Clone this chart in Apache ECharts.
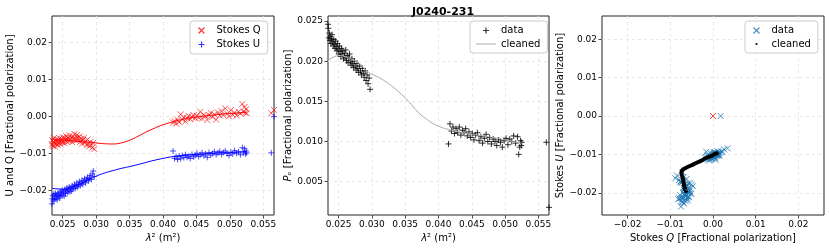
<!DOCTYPE html>
<html>
<head>
<meta charset="utf-8">
<script src="https://cdn.jsdelivr.net/npm/echarts@6/dist/echarts.min.js"></script>
<style>
html,body{margin:0;padding:0;background:#fff;}
#chart{width:830px;height:249px;}
</style>
</head>
<body>
<div id="chart"></div>
<script>
// ---------------- data ----------------
const lambdaBand1 = [0.02340,0.02345,0.02352,0.02360,0.02368,0.02375,0.02383,0.02392,0.02400,0.02410,
  0.02418,0.02427,0.02436,0.02445,0.02455,0.02464,0.02473,0.02483,0.02492,0.02502,
  0.02512,0.02522,0.02532,0.02542,0.02553,0.02563,0.02574,0.02585,0.02596,0.02607,
  0.02618,0.02629,0.02641,0.02652,0.02664,0.02676,0.02688,0.02700,0.02712,0.02724,
  0.02737,0.02749,0.02762,0.02775,0.02788,0.02801,0.02815,0.02828,0.02842,0.02856,
  0.02870,0.02884,0.02898,0.02912,0.02927,0.02942,0.02957,0.02972];
const qBand1 = [-0.0075,-0.0064,-0.0079,-0.0068,-0.0058,-0.0072,-0.0081,-0.0066,-0.0074,-0.0061,
  -0.0070,-0.0077,-0.0063,-0.0071,-0.0059,-0.0068,-0.0075,-0.0062,-0.0069,-0.0056,
  -0.0066,-0.0072,-0.0058,-0.0064,-0.0053,-0.0068,-0.0061,-0.0057,-0.0066,-0.0051,
  -0.0063,-0.0058,-0.0069,-0.0054,-0.0061,-0.0047,-0.0059,-0.0065,-0.0050,-0.0057,
  -0.0063,-0.0054,-0.0068,-0.0060,-0.0073,-0.0064,-0.0058,-0.0071,-0.0067,-0.0077,
  -0.0062,-0.0074,-0.0080,-0.0069,-0.0076,-0.0084,-0.0071,-0.0088];
const uBand1 = [-0.0236,-0.0222,-0.0214,-0.0228,-0.0210,-0.0224,-0.0217,-0.0208,-0.0221,-0.0213,
  -0.0225,-0.0206,-0.0216,-0.0211,-0.0220,-0.0203,-0.0214,-0.0207,-0.0199,-0.0212,
  -0.0204,-0.0215,-0.0197,-0.0208,-0.0201,-0.0193,-0.0206,-0.0198,-0.0190,-0.0203,
  -0.0195,-0.0201,-0.0187,-0.0196,-0.0191,-0.0183,-0.0194,-0.0188,-0.0179,-0.0190,
  -0.0184,-0.0176,-0.0187,-0.0180,-0.0172,-0.0183,-0.0175,-0.0168,-0.0179,-0.0171,
  -0.0164,-0.0174,-0.0167,-0.0159,-0.0170,-0.0155,-0.0147,-0.0162];
const pBand1 = [0.0246,0.0241,0.0229,0.0235,0.0226,0.0231,0.0222,0.0228,0.0233,0.0224,
  0.0219,0.0227,0.0221,0.0216,0.0225,0.0218,0.0213,0.0222,0.0215,0.0209,
  0.0219,0.0212,0.0206,0.0216,0.0209,0.0213,0.0203,0.0210,0.0205,0.0214,
  0.0201,0.0207,0.0198,0.0204,0.0209,0.0199,0.0195,0.0203,0.0197,0.0192,
  0.0200,0.0194,0.0189,0.0197,0.0191,0.0186,0.0194,0.0188,0.0183,0.0191,
  0.0185,0.0180,0.0188,0.0176,0.0183,0.0172,0.0179,0.0165];

const lambdaBand2 = [0.04150,0.04172,0.04195,0.04218,0.04241,0.04264,0.04288,0.04312,0.04336,0.04360,
  0.04384,0.04408,0.04433,0.04458,0.04483,0.04508,0.04533,0.04558,0.04584,0.04610,
  0.04636,0.04662,0.04688,0.04714,0.04741,0.04768,0.04795,0.04822,0.04849,0.04876,
  0.04903,0.04931,0.04959,0.04987,0.05015,0.05043,0.05071,0.05100,0.05129,0.05158,
  0.05187,0.05205,0.05220,0.05233,0.05243,0.05250];
const qBand2 = [-0.0016,-0.0012,-0.0019,-0.0009,-0.0015,0.0006,-0.0008,-0.0002,-0.0013,-0.0004,
  0.0002,-0.0007,-0.0001,0.0004,-0.0004,0.0002,-0.0003,0.0013,-0.0005,0.0005,
  0.0001,-0.0009,0.0004,0.0010,-0.0001,0.0006,-0.0008,0.0011,0.0003,0.0015,
  0.0004,0.0022,0.0008,0.0001,0.0017,0.0005,0.0011,0.0003,0.0013,0.0008,
  0.0034,0.0013,0.0026,0.0010,0.0020,0.0009];
const uBand2 = [-0.0093,-0.0113,-0.0108,-0.0116,-0.0107,-0.0114,-0.0105,-0.0111,-0.0103,-0.0110,
  -0.0107,-0.0113,-0.0102,-0.0109,-0.0105,-0.0099,-0.0108,-0.0103,-0.0098,-0.0106,
  -0.0101,-0.0110,-0.0097,-0.0104,-0.0100,-0.0095,-0.0103,-0.0098,-0.0094,-0.0102,
  -0.0097,-0.0093,-0.0100,-0.0105,-0.0096,-0.0101,-0.0092,-0.0099,-0.0095,-0.0103,
  -0.0084,-0.0098,-0.0087,-0.0101,-0.0093,-0.0098];
const pBand2 = [0.0097,0.0122,0.0113,0.0118,0.0110,0.0116,0.0111,0.0118,0.0108,0.0114,
  0.0111,0.0116,0.0107,0.0112,0.0105,0.0110,0.0102,0.0108,0.0111,0.0101,
  0.0106,0.0098,0.0104,0.0109,0.0100,0.0105,0.0097,0.0103,0.0100,0.0095,
  0.0102,0.0099,0.0093,0.0101,0.0104,0.0096,0.0103,0.0100,0.0107,0.0098,
  0.0106,0.0084,0.0093,0.0101,0.0095,0.0099];

const lambdaEdge = [0.0562, 0.0566];
const qEdge = [0.0009, 0.0018];
const uEdge = [-0.0098, 0.0000];
const pEdge = [0.0099, 0.0018];

const modelLambda = [0.0234,0.0250,0.0265,0.0280,0.0295,0.0310,0.0325,0.0340,0.0355,0.0370,
  0.0385,0.0400,0.0415,0.0430,0.0445,0.0460,0.0475,0.0490,0.0505,0.0525];
const qModel = [-0.0062,-0.0063,-0.0066,-0.0068,-0.0070,-0.0073,-0.0074,-0.0070,-0.0060,-0.0046,
  -0.0033,-0.0022,-0.0014,-0.0007,-0.0002,0.0001,0.0004,0.0007,0.0009,0.0012];
const uModel = [-0.0194,-0.0196,-0.0189,-0.0179,-0.0165,-0.0154,-0.0146,-0.0139,-0.0133,-0.0126,
  -0.0119,-0.0113,-0.0108,-0.0105,-0.0103,-0.0101,-0.0099,-0.0098,-0.0097,-0.0094];
const pModel = [0.0201,0.0207,0.0204,0.0198,0.0186,0.0180,0.0172,0.0162,0.0150,0.0136,
  0.0126,0.0119,0.0115,0.0112,0.0110,0.0108,0.0106,0.0104,0.0101,0.0098];

const originQ = [0.0];
const originU = [0.0];

const lambdaTicks = [0.025,0.030,0.035,0.040,0.045,0.050,0.055];
const quTicks = [-0.02,-0.01,0.00,0.01,0.02];
const pTicks = [0.005,0.010,0.015,0.020,0.025];
const stokesTicks = [-0.02,-0.01,0.00,0.01,0.02];

// ---------------- helpers ----------------
const FONT = 'DejaVu Sans';
const X_PATH = 'path://M0,0L10,10M10,0L0,10';
const PLUS_PATH = 'path://M5,0L5,10M0,5L10,5';
const LINE_ICON = 'path://M0,0L24,0L24,1.2L0,1.2Z';
const DOT_ICON = 'path://M0,0L0,0M10,10L10,10M3.2,5a1.8,1.8 0 1,0 3.6,0a1.8,1.8 0 1,0 -3.6,0Z';
const allLambda = lambdaBand1.concat(lambdaBand2, lambdaEdge);
const allQ = qBand1.concat(qBand2, qEdge);
const allU = uBand1.concat(uBand2, uEdge);
const allP = pBand1.concat(pBand2, pEdge);
const pairs = (xs, ys) => xs.map((x, i) => [x, ys[i]]);
const fmtMinus = d => v => (Math.abs(v) < 1e-12 ? Number(0).toFixed(d) : Number(v).toFixed(d)).replace('-', '\u2212');

function axis(gridIndex, min, max, ticks, digits, name, nameGap, isY) {
  return {
    type: 'value', gridIndex, min, max,
    name, nameLocation: 'middle', nameGap, nameRotate: isY ? 90 : 0,
    nameTextStyle: { fontFamily: FONT, fontSize: 10, color: '#000',
      rich: { i: { fontFamily: FONT, fontSize: 10, fontStyle: 'italic', color: '#000' } } },
    axisLine: { show: false, onZero: false },
    axisTick: { show: true, inside: false, length: 3.5, customValues: ticks, lineStyle: { color: '#222', width: 0.8 } },
    axisLabel: { show: true, customValues: ticks, formatter: fmtMinus(digits), fontFamily: FONT, fontSize: 9, color: '#000', margin: 5 },
    splitLine: { show: true, lineStyle: { color: '#e3e3e3', type: [3, 3], width: 0.8 } }
  };
}

const grids = [
  { left: 52, top: 16, width: 222, height: 199 },
  { left: 328, top: 16, width: 221, height: 199 },
  { left: 602, top: 16, width: 222, height: 199 }
].map(g => Object.assign({ show: true, borderColor: '#222', borderWidth: 1, backgroundColor: 'transparent' }, g));

const lamName = '{i|\u03bb}\u00b2 (m\u00b2)';
const legendBase = { orient: 'vertical', top: 21, padding: [4, 7, 4, 6], itemGap: 3, itemWidth: 20, itemHeight: 6,
  borderColor: '#ccc', borderWidth: 1, borderRadius: 3, backgroundColor: 'rgba(255,255,255,0.8)',
  textStyle: { fontFamily: FONT, fontSize: 10, color: '#000' } };

const option = {
  animation: false,
  backgroundColor: '#fff',
  textStyle: { fontFamily: FONT },
  title: { text: 'J0240-231', left: 438, top: 2, textAlign: 'center',
    textStyle: { fontFamily: FONT, fontSize: 11, fontWeight: 'bold', color: '#000' } },
  grid: grids,
  xAxis: [
    axis(0, 0.0234, 0.0566, lambdaTicks, 3, lamName, 17, false),
    axis(1, 0.0234, 0.0566, lambdaTicks, 3, lamName, 17, false),
    axis(2, -0.026, 0.026, stokesTicks, 2, 'Stokes {i|Q} [Fractional polarization]', 17, false)
  ],
  yAxis: [
    axis(0, -0.0266, 0.0272, quTicks, 2, 'U and Q [Fractional polarization]', 37, true),
    axis(1, 0.00085, 0.02563, pTicks, 3, '{i|P}\u2092 [Fractional polarization]', 33, true),
    axis(2, -0.0258, 0.0261, stokesTicks, 2, 'Stokes {i|U} [Fractional polarization]', 36, true)
  ],
  legend: [
    Object.assign({}, legendBase, { left: 190,
      data: [
        { name: 'Stokes Q', icon: X_PATH, itemStyle: { color: 'none', borderColor: '#ff0000', borderWidth: 1.2 } },
        { name: 'Stokes U', icon: PLUS_PATH, itemStyle: { color: 'none', borderColor: '#0000ff', borderWidth: 1.2 } }
      ] }),
    Object.assign({}, legendBase, { left: 470,
      data: [
        { name: 'data', icon: PLUS_PATH, itemStyle: { color: 'none', borderColor: '#000', borderWidth: 1.2 } },
        { name: 'cleaned', icon: LINE_ICON, itemStyle: { color: '#aaaaaa', borderWidth: 0 } }
      ] }),
    Object.assign({}, legendBase, { left: 745,
      data: [
        { name: 'data\u200b', icon: X_PATH, itemStyle: { color: 'none', borderColor: '#1f77b4', borderWidth: 1.2 } },
        { name: 'cleaned\u200b', icon: DOT_ICON, itemStyle: { color: '#000', borderWidth: 0 } }
      ] })
  ],
  series: [
    { name: 'Stokes Q', type: 'scatter', xAxisIndex: 0, yAxisIndex: 0, symbol: X_PATH, symbolSize: 6,
      itemStyle: { color: 'none', borderColor: 'rgba(255,0,0,0.8)', borderWidth: 1 }, data: pairs(allLambda, allQ) },
    { name: 'Stokes U', type: 'scatter', xAxisIndex: 0, yAxisIndex: 0, symbol: PLUS_PATH, symbolSize: 6,
      itemStyle: { color: 'none', borderColor: 'rgba(0,0,255,0.85)', borderWidth: 1 }, data: pairs(allLambda, allU) },
    { name: 'Q model', type: 'line', xAxisIndex: 0, yAxisIndex: 0, symbol: 'none', smooth: 0.4,
      lineStyle: { color: '#ff0000', width: 1 }, data: pairs(modelLambda, qModel) },
    { name: 'U model', type: 'line', xAxisIndex: 0, yAxisIndex: 0, symbol: 'none', smooth: 0.4,
      lineStyle: { color: '#0000ff', width: 1 }, data: pairs(modelLambda, uModel) },

    { name: 'data', type: 'scatter', xAxisIndex: 1, yAxisIndex: 1, symbol: PLUS_PATH, symbolSize: 6,
      itemStyle: { color: 'none', borderColor: '#000', borderWidth: 1 }, data: pairs(allLambda, allP) },
    { name: 'cleaned', type: 'line', xAxisIndex: 1, yAxisIndex: 1, symbol: 'none', smooth: 0.4,
      lineStyle: { color: '#aaaaaa', width: 1 }, itemStyle: { color: '#aaaaaa' }, data: pairs(modelLambda, pModel) },

    { name: 'data\u200b', type: 'scatter', xAxisIndex: 2, yAxisIndex: 2, symbol: X_PATH, symbolSize: 6,
      itemStyle: { color: 'none', borderColor: '#1f77b4', borderWidth: 1 }, data: pairs(allQ, allU) },
    { name: 'origin', type: 'scatter', xAxisIndex: 2, yAxisIndex: 2, symbol: X_PATH, symbolSize: 6,
      itemStyle: { color: 'none', borderColor: '#ff0000', borderWidth: 1 }, data: pairs(originQ, originU) },
    { name: 'cleaned\u200b', type: 'line', xAxisIndex: 2, yAxisIndex: 2, symbol: 'none', smooth: 0.2,
      lineStyle: { color: '#000', width: 4 }, itemStyle: { color: '#000' }, data: pairs(qModel, uModel) }
  ]
};

const chart = echarts.init(document.getElementById('chart'), null, { renderer: 'canvas' });
chart.setOption(option);
</script>
</body>
</html>
